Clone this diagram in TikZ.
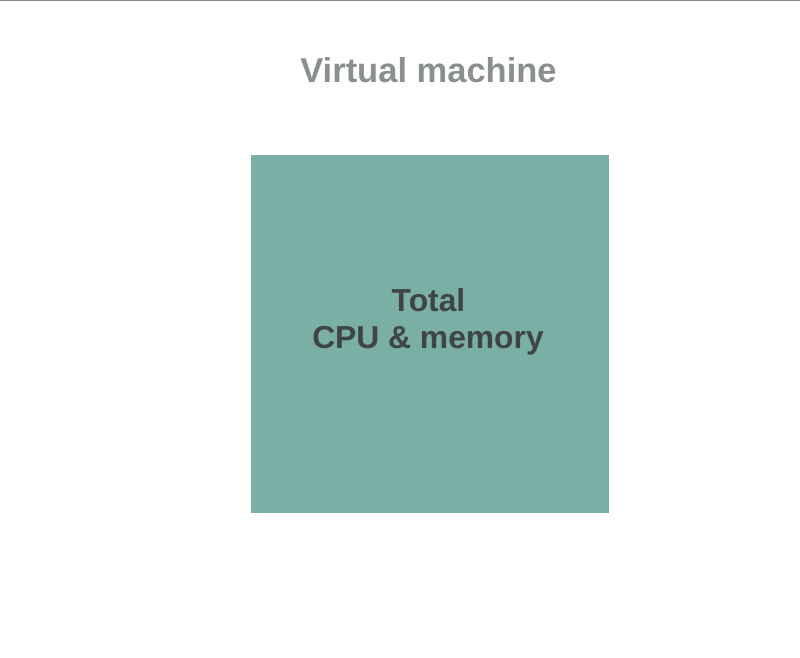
\documentclass[tikz,border=0pt]{standalone}
\usepackage{fontspec}
\setmainfont{Liberation Sans}
\definecolor{boxfill}{HTML}{7AAFA6}
\definecolor{titlegray}{HTML}{8A8F8F}
\definecolor{textdark}{HTML}{3F4444}
\definecolor{linegray}{HTML}{8A8A8A}
\begin{document}
\begin{tikzpicture}[x=1pt,y=-1pt,
  titlestyle/.style={font=\bfseries\fontsize{34.5}{40}\selectfont, text=titlegray, inner sep=0pt},
  boxstyle/.style={fill=boxfill, draw=none, minimum width=358pt, minimum height=358pt, inner sep=0pt, anchor=north west},
  boxtext/.style={font=\bfseries\fontsize{31.8}{37}\selectfont, text=textdark, inner sep=0pt, anchor=base}]
\useasboundingbox (0,0) rectangle (800,658);
\fill[white] (0,0) rectangle (800,658);
\coordinate (tl) at (0,0.6);
\coordinate (tr) at (800,0.6);
\draw[linegray, line width=1.2pt] (tl) -- (tr);
\node[titlestyle, anchor=base] (title) at (428.5,83) {Virtual machine};
\node[boxstyle] (vm) at (251,155) {};
\node[boxtext] (t1) at (428.5,311) {Total};
\node[boxtext] (t2) at (428,348) {CPU \& memory};
\end{tikzpicture}
\end{document}
